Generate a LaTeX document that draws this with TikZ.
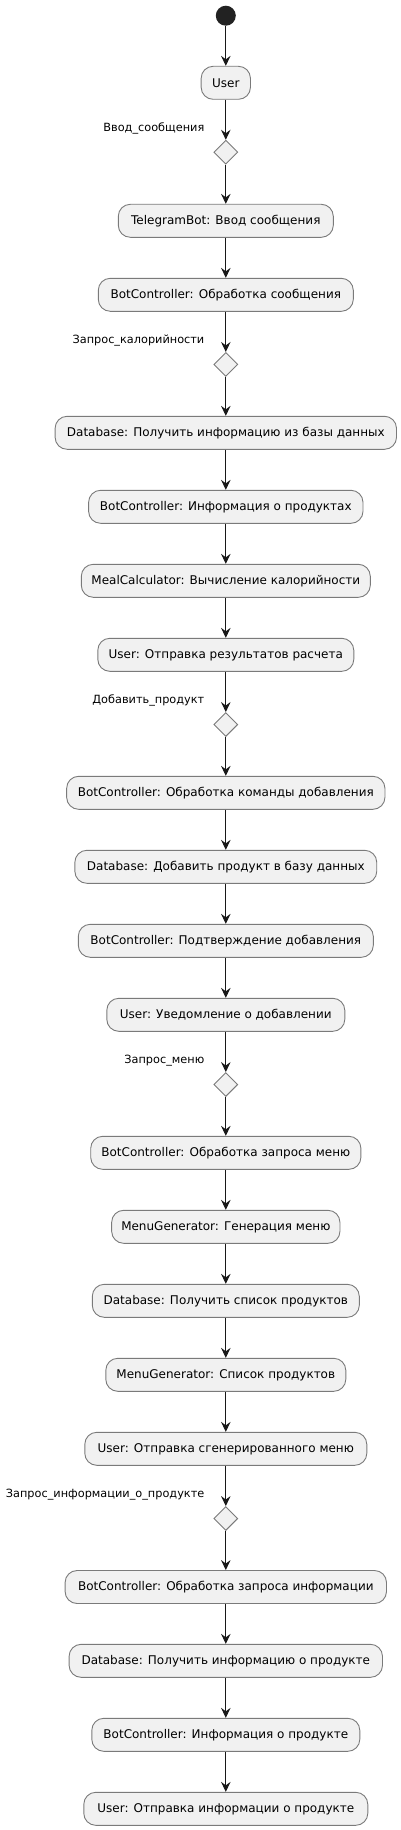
\documentclass[tikz,border=0pt]{standalone}
\usepackage{fontspec}
\setmainfont{DejaVu Sans}
\usetikzlibrary{shapes.geometric,arrows.meta}
\definecolor{boxfill}{HTML}{F1F1F1}
\definecolor{lineclr}{HTML}{181818}
\definecolor{borderclr}{HTML}{7A7A7A}
\definecolor{startclr}{HTML}{222222}
\tikzset{
  act/.style={draw=borderclr, line width=0.9pt, fill=boxfill, rounded corners=12pt,
    minimum height=33pt, inner xsep=3pt, inner ysep=0pt, font=\fontsize{12}{14}\selectfont, text=black},
  dec/.style={draw=borderclr, line width=0.9pt, fill=boxfill, diamond, aspect=1,
    minimum width=24pt, minimum height=24pt, inner sep=0pt},
  lbl/.style={anchor=base east, inner sep=0pt, font=\fontsize{11.3}{13}\selectfont, text=black},
  flow/.style={draw=lineclr, line width=1pt, -{Stealth[length=10pt,width=9.5pt,inset=3.5pt]}},
  startnode/.style={circle, fill=startclr, minimum size=20pt, inner sep=0pt}
}
\begin{document}
\begin{tikzpicture}[x=1pt,y=-1pt]
\useasboundingbox (0,0) rectangle (401,1830);
\def\cx{225.8}
\node[startnode] (s) at (\cx,15.7) {};
\node[act, minimum width=49.3pt] (b1) at (\cx,82.8) {User};
\node[dec] (d1) at (\cx,152.2) {};
\node[lbl] (l1) at (204.5,131.5) {Ввод\_сообщения};
\node[act, minimum width=215pt] (b2) at (\cx,220.8) {TelegramBot: Ввод сообщения};
\node[act, minimum width=255pt] (b3) at (\cx,294.8) {BotController: Обработка сообщения};
\node[dec] (d2) at (\cx,364.4) {};
\node[lbl] (l2) at (204.5,343.5) {Запрос\_калорийности};
\node[act, minimum width=341.4pt] (b4) at (\cx,432.8) {Database: Получить информацию из базы данных};
\node[act, minimum width=274.4pt] (b5) at (\cx,506.8) {BotController: Информация о продуктах};
\node[act, minimum width=289pt] (b6) at (\cx,580.8) {MealCalculator: Вычисление калорийности};
\node[act, minimum width=256pt] (b7) at (\cx,654.8) {User: Отправка результатов расчета};
\node[dec] (d3) at (\cx,724.5) {};
\node[lbl] (l3) at (204.5,703.5) {Добавить\_продукт};
\node[act, minimum width=318.3pt] (b8) at (\cx,792.8) {BotController: Обработка команды добавления};
\node[act, minimum width=301.9pt] (b9) at (\cx,866.8) {Database: Добавить продукт в базу данных};
\node[act, minimum width=295pt] (b10) at (\cx,940.8) {BotController: Подтверждение добавления};
\node[act, minimum width=238pt] (b11) at (\cx,1014.8) {User: Уведомление о добавлении};
\node[dec] (d4) at (\cx,1084.5) {};
\node[lbl] (l4) at (204.5,1063.5) {Запрос\_меню};
\node[act, minimum width=270.2pt] (b12) at (\cx,1152.8) {BotController: Обработка запроса меню};
\node[act, minimum width=228.3pt] (b13) at (\cx,1226.8) {MenuGenerator: Генерация меню};
\node[act, minimum width=267pt] (b14) at (\cx,1300.8) {Database: Получить список продуктов};
\node[act, minimum width=240pt] (b15) at (\cx,1374.8) {MenuGenerator: Список продуктов};
\node[act, minimum width=282pt] (b16) at (\cx,1448.8) {User: Отправка сгенерированного меню};
\node[dec] (d5) at (\cx,1518.5) {};
\node[lbl] (l5) at (204.5,1497.5) {Запрос\_информации\_о\_продукте};
\node[act, minimum width=321.4pt] (b17) at (\cx,1587) {BotController: Обработка запроса информации};
\node[act, minimum width=313.4pt] (b18) at (\cx,1660.8) {Database: Получить информацию о продукте};
\node[act, minimum width=268pt] (b19) at (\cx,1734.8) {BotController: Информация о продукте};
\node[act, minimum width=284pt] (b20) at (\cx,1808.8) {User: Отправка информации о продукте};
\draw[flow] (s) -- (b1);
\draw[flow] (b1) -- (d1);
\draw[flow] (d1) -- (b2);
\draw[flow] (b2) -- (b3);
\draw[flow] (b3) -- (d2);
\draw[flow] (d2) -- (b4);
\draw[flow] (b4) -- (b5);
\draw[flow] (b5) -- (b6);
\draw[flow] (b6) -- (b7);
\draw[flow] (b7) -- (d3);
\draw[flow] (d3) -- (b8);
\draw[flow] (b8) -- (b9);
\draw[flow] (b9) -- (b10);
\draw[flow] (b10) -- (b11);
\draw[flow] (b11) -- (d4);
\draw[flow] (d4) -- (b12);
\draw[flow] (b12) -- (b13);
\draw[flow] (b13) -- (b14);
\draw[flow] (b14) -- (b15);
\draw[flow] (b15) -- (b16);
\draw[flow] (b16) -- (d5);
\draw[flow] (d5) -- (b17);
\draw[flow] (b17) -- (b18);
\draw[flow] (b18) -- (b19);
\draw[flow] (b19) -- (b20);
\end{tikzpicture}
\end{document}
